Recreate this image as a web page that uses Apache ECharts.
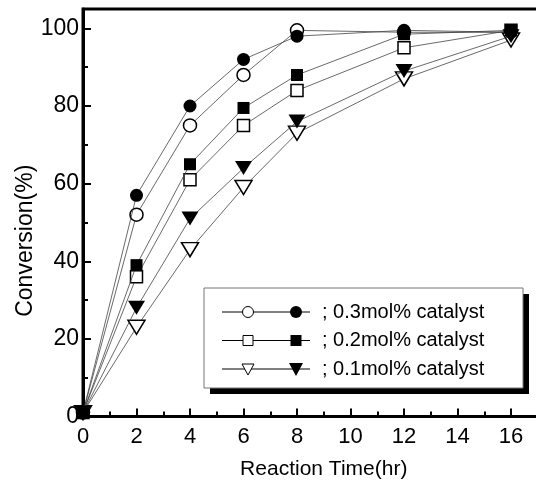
<!DOCTYPE html>
<html>
<head>
<meta charset="utf-8">
<script src="https://cdn.jsdelivr.net/npm/echarts@6/dist/echarts.min.js"></script>
<style>
  html, body { margin: 0; padding: 0; background: #fff; }
  #chart { width: 536px; height: 484px; }
</style>
</head>
<body>
<div id="chart"></div>
<script>
  // reaction time (hr)
  var times = [0, 2, 4, 6, 8, 12, 16]
  // conversion (%) per catalyst loading, open and filled markers
  var open03 = [1, 52, 75, 88, 99.5, 99, 99]
  var fill03 = [1, 57, 80, 92, 98, 99.5, 99]
  var open02 = [1, 36, 61, 75, 84, 95, 99.5]
  var fill02 = [1, 39, 65, 79.5, 88, 98.5, 99.5]
  var open01 = [1, 23, 43, 59, 73, 87, 97]
  var fill01 = [1, 28, 51, 64, 76, 89, 98]
  var legendNames = ['; 0.3mol% catalyst', '; 0.2mol% catalyst', '; 0.1mol% catalyst']

  var FONT = "'Liberation Sans', Arial, sans-serif"
  var LINE = '#444'

  function pairs (ys) {
    return times.map(function (t, i) { return [t, ys[i]] })
  }

  function makeSeries (name, ys, symbol, size, filled, rotate) {
    return {
      name: name,
      type: 'line',
      data: pairs(ys),
      symbol: symbol,
      symbolSize: size,
      symbolRotate: rotate || 0,
      showAllSymbol: true,
      lineStyle: { color: LINE, width: 0.8 },
      itemStyle: {
        color: filled ? '#000' : '#fff',
        borderColor: '#000',
        borderWidth: filled ? 0 : 1.5
      },
      z: filled ? 3 : 2
    }
  }

  // legend drawn as graphic: box with black drop shadow
  var legendRows = [312, 340.5, 369]
  var legendGraphic = [
    { type: 'rect', shape: { x: 210, y: 294, width: 319, height: 100 }, style: { fill: '#000' }, silent: true },
    { type: 'rect', shape: { x: 204, y: 288, width: 319, height: 100 }, style: { fill: '#fff', stroke: '#777', lineWidth: 1 }, silent: true }
  ]
  function openMarker (k, cx, cy) {
    if (k === 0) return { type: 'circle', shape: { cx: cx, cy: cy, r: 5.5 }, style: { fill: '#fff', stroke: '#000', lineWidth: 1 } }
    if (k === 1) return { type: 'rect', shape: { x: cx - 5, y: cy - 5, width: 10, height: 10 }, style: { fill: '#fff', stroke: '#000', lineWidth: 1 } }
    return { type: 'polygon', shape: { points: [[cx - 6, cy - 5], [cx + 6, cy - 5], [cx, cy + 6]] }, style: { fill: '#fff', stroke: '#000', lineWidth: 1 } }
  }
  function fillMarker (k, cx, cy) {
    if (k === 0) return { type: 'circle', shape: { cx: cx, cy: cy, r: 6 }, style: { fill: '#000' } }
    if (k === 1) return { type: 'rect', shape: { x: cx - 5.5, y: cy - 5.5, width: 11, height: 11 }, style: { fill: '#000' } }
    return { type: 'polygon', shape: { points: [[cx - 7, cy - 6], [cx + 7, cy - 6], [cx, cy + 7]] }, style: { fill: '#000' } }
  }
  legendRows.forEach(function (y, k) {
    legendGraphic.push({ type: 'line', shape: { x1: 222, y1: y, x2: 310, y2: y }, style: { stroke: '#000', lineWidth: 1 } })
    legendGraphic.push(openMarker(k, 248, y))
    legendGraphic.push(fillMarker(k, 296, y))
    legendGraphic.push({
      type: 'text', x: 322, y: y,
      style: { text: legendNames[k], font: '20px ' + FONT, fill: '#000', textVerticalAlign: 'middle' }
    })
  })

  var chart = echarts.init(document.getElementById('chart'))
  chart.setOption({
    animation: false,
    backgroundColor: '#fff',
    grid: {
      left: 83,
      right: -28.5,
      top: 9,
      bottom: 67.5,
      outerBoundsMode: 'none',
      containLabel: false,
      show: true,
      borderColor: '#000',
      borderWidth: 3,
      backgroundColor: 'transparent'
    },
    xAxis: {
      type: 'value',
      min: 0,
      max: 18,
      interval: 2,
      name: 'Reaction Time(hr)',
      nameLocation: 'middle',
      nameGap: 42,
      nameTextStyle: { fontFamily: FONT, fontSize: 21, color: '#000' },
      axisLine: { lineStyle: { color: '#000', width: 3 } },
      axisTick: { inside: true, length: 8, lineStyle: { color: '#000', width: 2 } },
      minorTick: { show: true, splitNumber: 2, length: 5, lineStyle: { color: '#000', width: 2 } },
      axisLabel: { fontFamily: FONT, fontSize: 22, color: '#000', margin: 9 },
      splitLine: { show: false }
    },
    yAxis: {
      type: 'value',
      min: 0,
      max: 105,
      interval: 20,
      name: 'Conversion(%)',
      nameLocation: 'middle',
      nameGap: 46,
      nameMoveOverlap: false,
      nameTextStyle: { fontFamily: FONT, fontSize: 23, color: '#000', padding: [0, 56, 0, 0] },
      axisLine: { lineStyle: { color: '#000', width: 3 } },
      axisTick: { inside: true, length: 8, lineStyle: { color: '#000', width: 2 } },
      minorTick: { show: true, splitNumber: 2, length: 5, lineStyle: { color: '#000', width: 2 } },
      axisLabel: {
        fontFamily: FONT, fontSize: 23, color: '#000', margin: 4,
        formatter: function (v) { return v % 20 === 0 ? String(v) : '' }
      },
      splitLine: { show: false }
    },
    series: [
      makeSeries('open03', open03, 'circle', 13, false),
      makeSeries('fill03', fill03, 'circle', 13, true),
      makeSeries('open02', open02, 'rect', 12, false),
      makeSeries('fill02', fill02, 'rect', 12, true),
      makeSeries('open01', open01, 'triangle', [17, 14], false, 180),
      makeSeries('fill01', fill01, 'triangle', [17, 14], true, 180)
    ],
    graphic: legendGraphic
  })
</script>
</body>
</html>
